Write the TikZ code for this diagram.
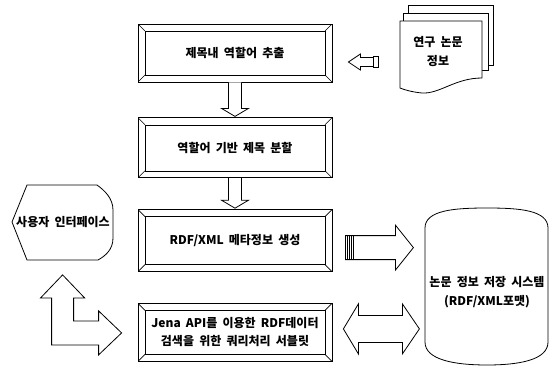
\documentclass[tikz,border=0pt]{standalone}
\usepackage{fontspec}
\setmainfont{Noto Sans CJK KR}[WordSpace=1.9]
\usetikzlibrary{calc,positioning}
\tikzset{
  % bevelled process box
  bbox/.style={rectangle,draw,line width=0.8pt,
    minimum width=194pt,align=center,
    font=\fontsize{12}{18}\selectfont\bfseries,
    path picture={
      \draw[line width=0.6pt]
        ([shift={(7pt,-7pt)}]path picture bounding box.north west) rectangle
        ([shift={(-7pt,7pt)}]path picture bounding box.south east);
      \draw[line width=0.6pt] (path picture bounding box.north west) -- ++(7pt,-7pt);
      \draw[line width=0.6pt] (path picture bounding box.north east) -- ++(-7pt,-7pt);
      \draw[line width=0.6pt] (path picture bounding box.south west) -- ++(7pt,7pt);
      \draw[line width=0.6pt] (path picture bounding box.south east) -- ++(-7pt,7pt);
    }},
  % block arrow / outline shapes
  blk/.style={draw,line width=0.8pt,fill=white,line join=miter},
  % plain label
  lbl/.style={align=center,font=\fontsize{12}{19}\selectfont\bfseries},
}

\begin{document}
\begin{tikzpicture}[x=1pt,y=-1pt]
  \useasboundingbox (0,0) rectangle (554,367);

  % Process boxes
  \node[bbox,minimum height=58pt] (b1) at (235,53) {제목내 역할어 추출};
  \node[bbox,minimum height=60pt,below=35pt of b1] (b2) {역할어 기반 제목 분할};
  \node[bbox,minimum height=62pt,below=31pt of b2] (b3) {RDF/XML 메타정보 생성};
  \node[bbox,minimum height=58pt,below=31pt of b3] (b4)
    {Jena API를 이용한 RDF데이터\\검색을 위한 쿼리처리 서블릿};

  % Down arrows
  \foreach \a/\b in {b1/b2,b2/b3}
    \draw[blk] ($(\a.south)+(-6.5,0)$) -- ($(\b.north)+(-6.5,-9)$)
      -- ($(\b.north)+(-13.5,-9)$) -- ($(\b.north)+(0,-1)$)
      -- ($(\b.north)+(13.5,-9)$) -- ($(\b.north)+(6.5,-9)$)
      -- ($(\a.south)+(6.5,0)$);

  % Paper stack
  \draw[blk] (408,13) -- (408,5) -- (493,5) -- (493,65) -- (488,65);
  \draw[blk] (403,21) -- (403,13) -- (488,13) -- (488,70) -- (482,70);
  \draw[blk] (400,21) -- (482,21) -- (482,78)
    .. controls (455,78) and (440,94) .. (422,93)
    .. controls (412,92) and (405,90) .. (400,88) -- cycle;
  \node[lbl] (doc) at (438,52) {연구 논문\\정보};

  % Paper -> b1
  \coordinate (p1) at ($(b1.east)+(16,9)$);
  \draw[blk] (p1) -- ++(12,-8) -- ++(0,3.5) -- ++(13,0) -- ++(0,9)
    -- ++(-13,0) -- ++(0,3.5) -- cycle;
  \draw[blk] ($(p1)+(25,-5.5)$) rectangle ($(p1)+(30,5.5)$);

  % b3 -> store
  \coordinate (t3) at ($(b3.east)+(13,7)$);
  \draw[blk] ($(t3)+(0,-12)$) -- ++(50,0) -- ++(0,-10.5) -- ($(t3)+(68,0)$)
    -- ($(t3)+(50,22.5)$) -- ++(0,-10.5) -- ($(t3)+(0,12)$) -- cycle;
  \foreach \x in {0,2,4,6,8}
    \draw[line width=0.6pt] ($(t3)+(\x,-12)$) -- ($(t3)+(\x,12)$);

  % b4 <-> store
  \coordinate (d4) at ($(b4.east)+(11,-3.5)$);
  \draw[blk] (d4) -- ++(15,-25) -- ++(0,11.5) -- ++(44,0) -- ++(0,-11.5)
    -- ++(17,25) -- ++(-17,25) -- ++(0,-11.5) -- ++(-44,0) -- ++(0,11.5) -- cycle;

  % Store
  \draw[blk] (425,228) .. controls (425,210) and (455,208) .. (487,208)
    .. controls (519,208) and (548,210) .. (548,228) -- (548,342)
    .. controls (548,360) and (519,365) .. (487,365)
    .. controls (455,365) and (425,360) .. (425,342) -- cycle;
  \node[lbl] (db) at (487,292) {논문 정보 저장 시스템\\(RDF/XML포맷)};

  % User interface
  \draw[blk] (12,222) -- (27,185) -- (97,185) .. controls (104,190) and (113,198) .. (113,210)
    -- (113,238) .. controls (113,250) and (105,256) .. (98,260) -- (27,260) -- cycle;
  \node[lbl] (ui) at (63,222) {사용자 인터페이스};

  % ui <-> b4
  \coordinate (lt) at ($(b4.west)+(-16,0.5)$);
  \draw[blk] (lt) -- ++(-23,-22) -- ++(0,10) -- ++(-25,0) -- ++(0,-23)
    -- ++(11,0) -- ++(-22,-23) -- ++(-22,23) -- ++(11,0) -- ++(0,47)
    -- ++(47,0) -- ++(0,10) -- cycle;
\end{tikzpicture}
\end{document}
